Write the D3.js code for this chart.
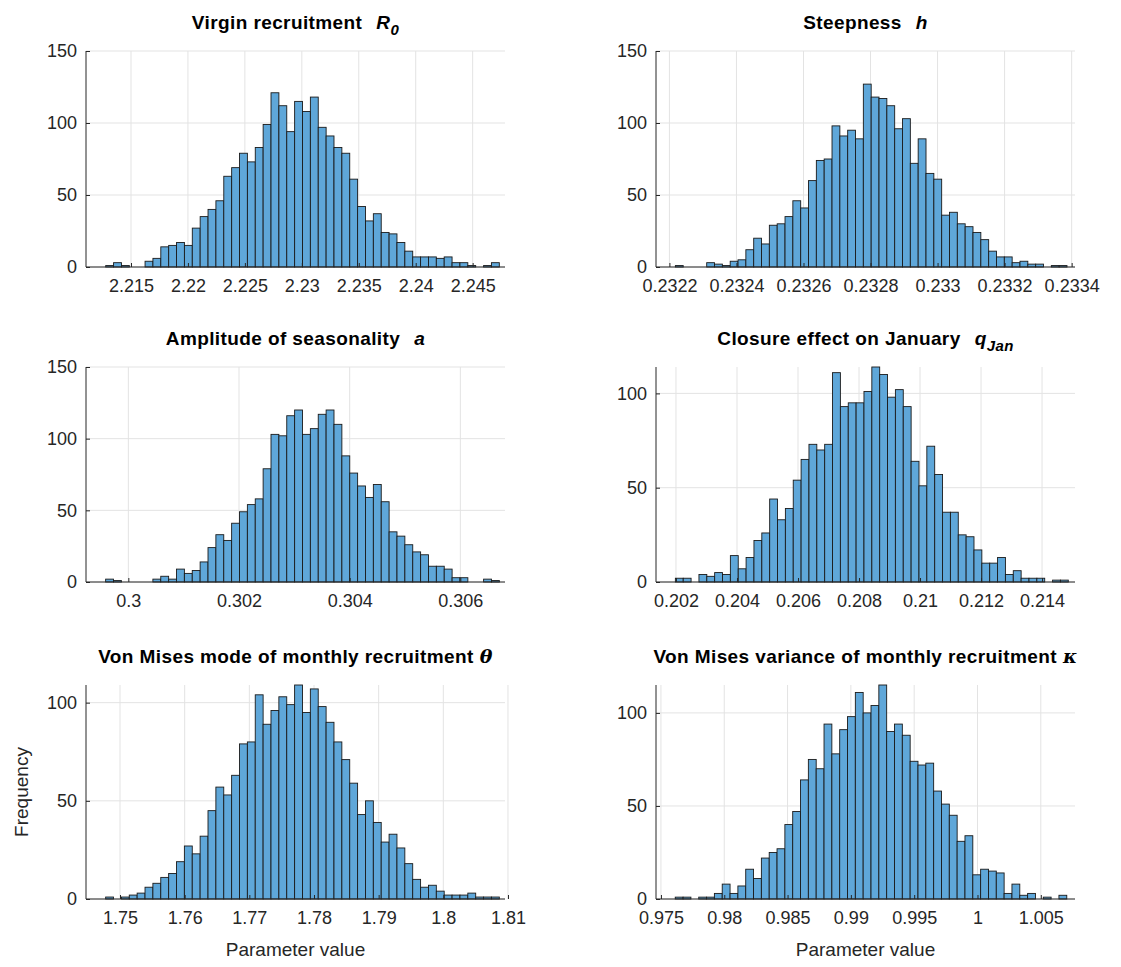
<!DOCTYPE html>
<html><head><meta charset="utf-8">
<script src="https://cdn.jsdelivr.net/npm/d3@7"></script>
<style>body{margin:0;background:#fff}text{font-family:"Liberation Sans",Arial,sans-serif}</style>
</head><body><svg id="c" width="1121" height="967"></svg>
<script>
const countsR0=[1,3,1,0,0,4,6,14,15,17,15,27,35,40,46,63,69,79,73,83,99,121,112,94,115,108,118,97,91,83,79,61,42,32,37,24,23,17,11,7,7,7,6,7,3,3,1,0,1,3];
const countsH=[1,0,0,0,3,2,1,4,5,12,20,16,29,30,35,46,41,60,74,75,98,91,95,89,127,118,117,112,96,103,72,89,65,61,36,38,30,28,24,19,11,7,7,3,4,2,2,0,1,1];
const countsA=[2,1,0,0,0,0,2,4,2,9,6,8,14,24,33,29,41,49,54,58,79,103,102,116,120,103,107,117,120,110,88,76,67,59,68,56,35,32,26,21,19,11,11,9,3,3,0,0,2,1];
const countsQ=[2,2,0,4,3,5,4,14,7,13,22,26,44,33,39,54,65,73,70,73,111,93,95,95,101,114,110,98,102,93,64,51,72,57,37,37,25,24,17,10,10,13,4,6,2,2,2,0,1,1];
const countsTheta=[1,0,1,2,3,6,8,11,13,19,27,23,32,45,57,53,63,79,80,104,89,96,103,99,109,95,107,98,90,80,71,59,43,50,39,29,33,26,18,10,6,7,4,2,2,2,3,1,1,1];
const countsKappa=[1,1,0,1,1,3,8,3,7,16,11,22,25,27,40,47,64,75,70,94,78,91,98,111,100,104,115,90,94,88,74,72,73,58,51,45,31,34,13,16,15,14,3,8,2,3,0,1,0,2];
const binRanges=[[2.21278,2.24734],[0.2322178,0.2333861],[0.29959,0.306705],[0.20198,0.21486],[1.74778,1.80866],[0.97613,1.00705]];
const xDomains=[[2.21105,2.24784],[0.23216,0.23341],[0.299235,0.306807],[0.201345,0.21508],[1.74474,1.80954],[0.97461,1.0077]];
const yMaxes=[150,150,150,114,109,115];
const xTicks=[[2.215,2.22,2.225,2.23,2.235,2.24,2.245],[0.2322,0.2324,0.2326,0.2328,0.233,0.2332,0.2334],[0.3,0.302,0.304,0.306],[0.202,0.204,0.206,0.208,0.21,0.212,0.214],[1.75,1.76,1.77,1.78,1.79,1.8,1.81],[0.975,0.98,0.985,0.99,0.995,1,1.005]];
const yTicks=[[0,50,100,150],[0,50,100,150],[0,50,100,150],[0,50,100],[0,50,100],[0,50,100]];
const titles=[["Virgin recruitment","R","0"],["Steepness","h",""],["Amplitude of seasonality","a",""],["Closure effect on January","q","Jan"],["Von Mises mode of monthly recruitment","θ",""],["Von Mises variance of monthly recruitment","κ",""]];
const allCounts=[countsR0,countsH,countsA,countsQ,countsTheta,countsKappa];

const svg=d3.select("#c");
const cols=[[86,505],[656,1075]], rows=[[51,267],[367,582],[685,899]];
allCounts.forEach((counts,i)=>{
  const c=cols[i%2], r=rows[Math.floor(i/2)];
  const x=d3.scaleLinear().domain(xDomains[i]).range(c);
  const y=d3.scaleLinear().domain([0,yMaxes[i]]).range([r[1],r[0]]);
  const g=svg.append("g");
  g.selectAll(".gx").data(xTicks[i]).join("line").attr("x1",d=>x(d)).attr("x2",d=>x(d)).attr("y1",r[0]).attr("y2",r[1]).attr("stroke","#e3e3e3");
  g.selectAll(".gy").data(yTicks[i]).join("line").attr("x1",c[0]).attr("x2",c[1]).attr("y1",d=>y(d)).attr("y2",d=>y(d)).attr("stroke","#e3e3e3");
  const n=counts.length, w=(binRanges[i][1]-binRanges[i][0])/n;
  g.selectAll("rect").data(counts).join("rect")
   .attr("x",(d,k)=>x(binRanges[i][0]+k*w)).attr("width",(d,k)=>x(binRanges[i][0]+(k+1)*w)-x(binRanges[i][0]+k*w))
   .attr("y",d=>y(d)).attr("height",d=>y(0)-y(d))
   .attr("fill","#5fa7d9").attr("stroke","#1a1a1a").attr("stroke-width",0.9);
  const ax=g.append("g").attr("transform",`translate(0,${r[1]})`).call(d3.axisBottom(x).tickValues(xTicks[i]).tickSize(-4).tickSizeOuter(0).tickPadding(12).tickFormat(d3.format("")));
  const ay=g.append("g").attr("transform",`translate(${c[0]},0)`).call(d3.axisLeft(y).tickValues(yTicks[i]).tickSize(-4).tickSizeOuter(0).tickPadding(9));
  [ax,ay].forEach(a=>{a.selectAll("path,line").attr("stroke","#262626");a.selectAll("text").attr("fill","#262626").style("font-size","18px");});
  ax.select("path").attr("d",`M${c[0]},0H${c[1]}`);
  ay.select("path").attr("d",`M0,${r[0]}V${r[1]}`);
  const t=g.append("text").attr("x",(c[0]+c[1])/2).attr("y",r[0]-22).attr("text-anchor","middle").style("font-size","19px").style("font-weight","bold").style("letter-spacing","0.4px").attr("fill","#000");
  t.append("tspan").text(titles[i][0]);
  t.append("tspan").text(titles[i][1]).attr("dx", i>=4?6:14).style("font-style","italic").style("font-family", i>=4?"'DejaVu Serif',serif":null);
  if(titles[i][2]) t.append("tspan").text(titles[i][2]).style("font-style","italic").style("font-size","15px").attr("dy",6);
});
svg.append("text").attr("x",(cols[0][0]+cols[0][1])/2).attr("y",956).attr("text-anchor","middle").style("font-size","19px").attr("fill","#262626").text("Parameter value");
svg.append("text").attr("x",(cols[1][0]+cols[1][1])/2).attr("y",956).attr("text-anchor","middle").style("font-size","19px").attr("fill","#262626").text("Parameter value");
svg.append("text").attr("transform",`translate(28,${(rows[2][0]+rows[2][1])/2}) rotate(-90)`).attr("text-anchor","middle").style("font-size","19px").attr("fill","#262626").text("Frequency");
</script></body></html>
